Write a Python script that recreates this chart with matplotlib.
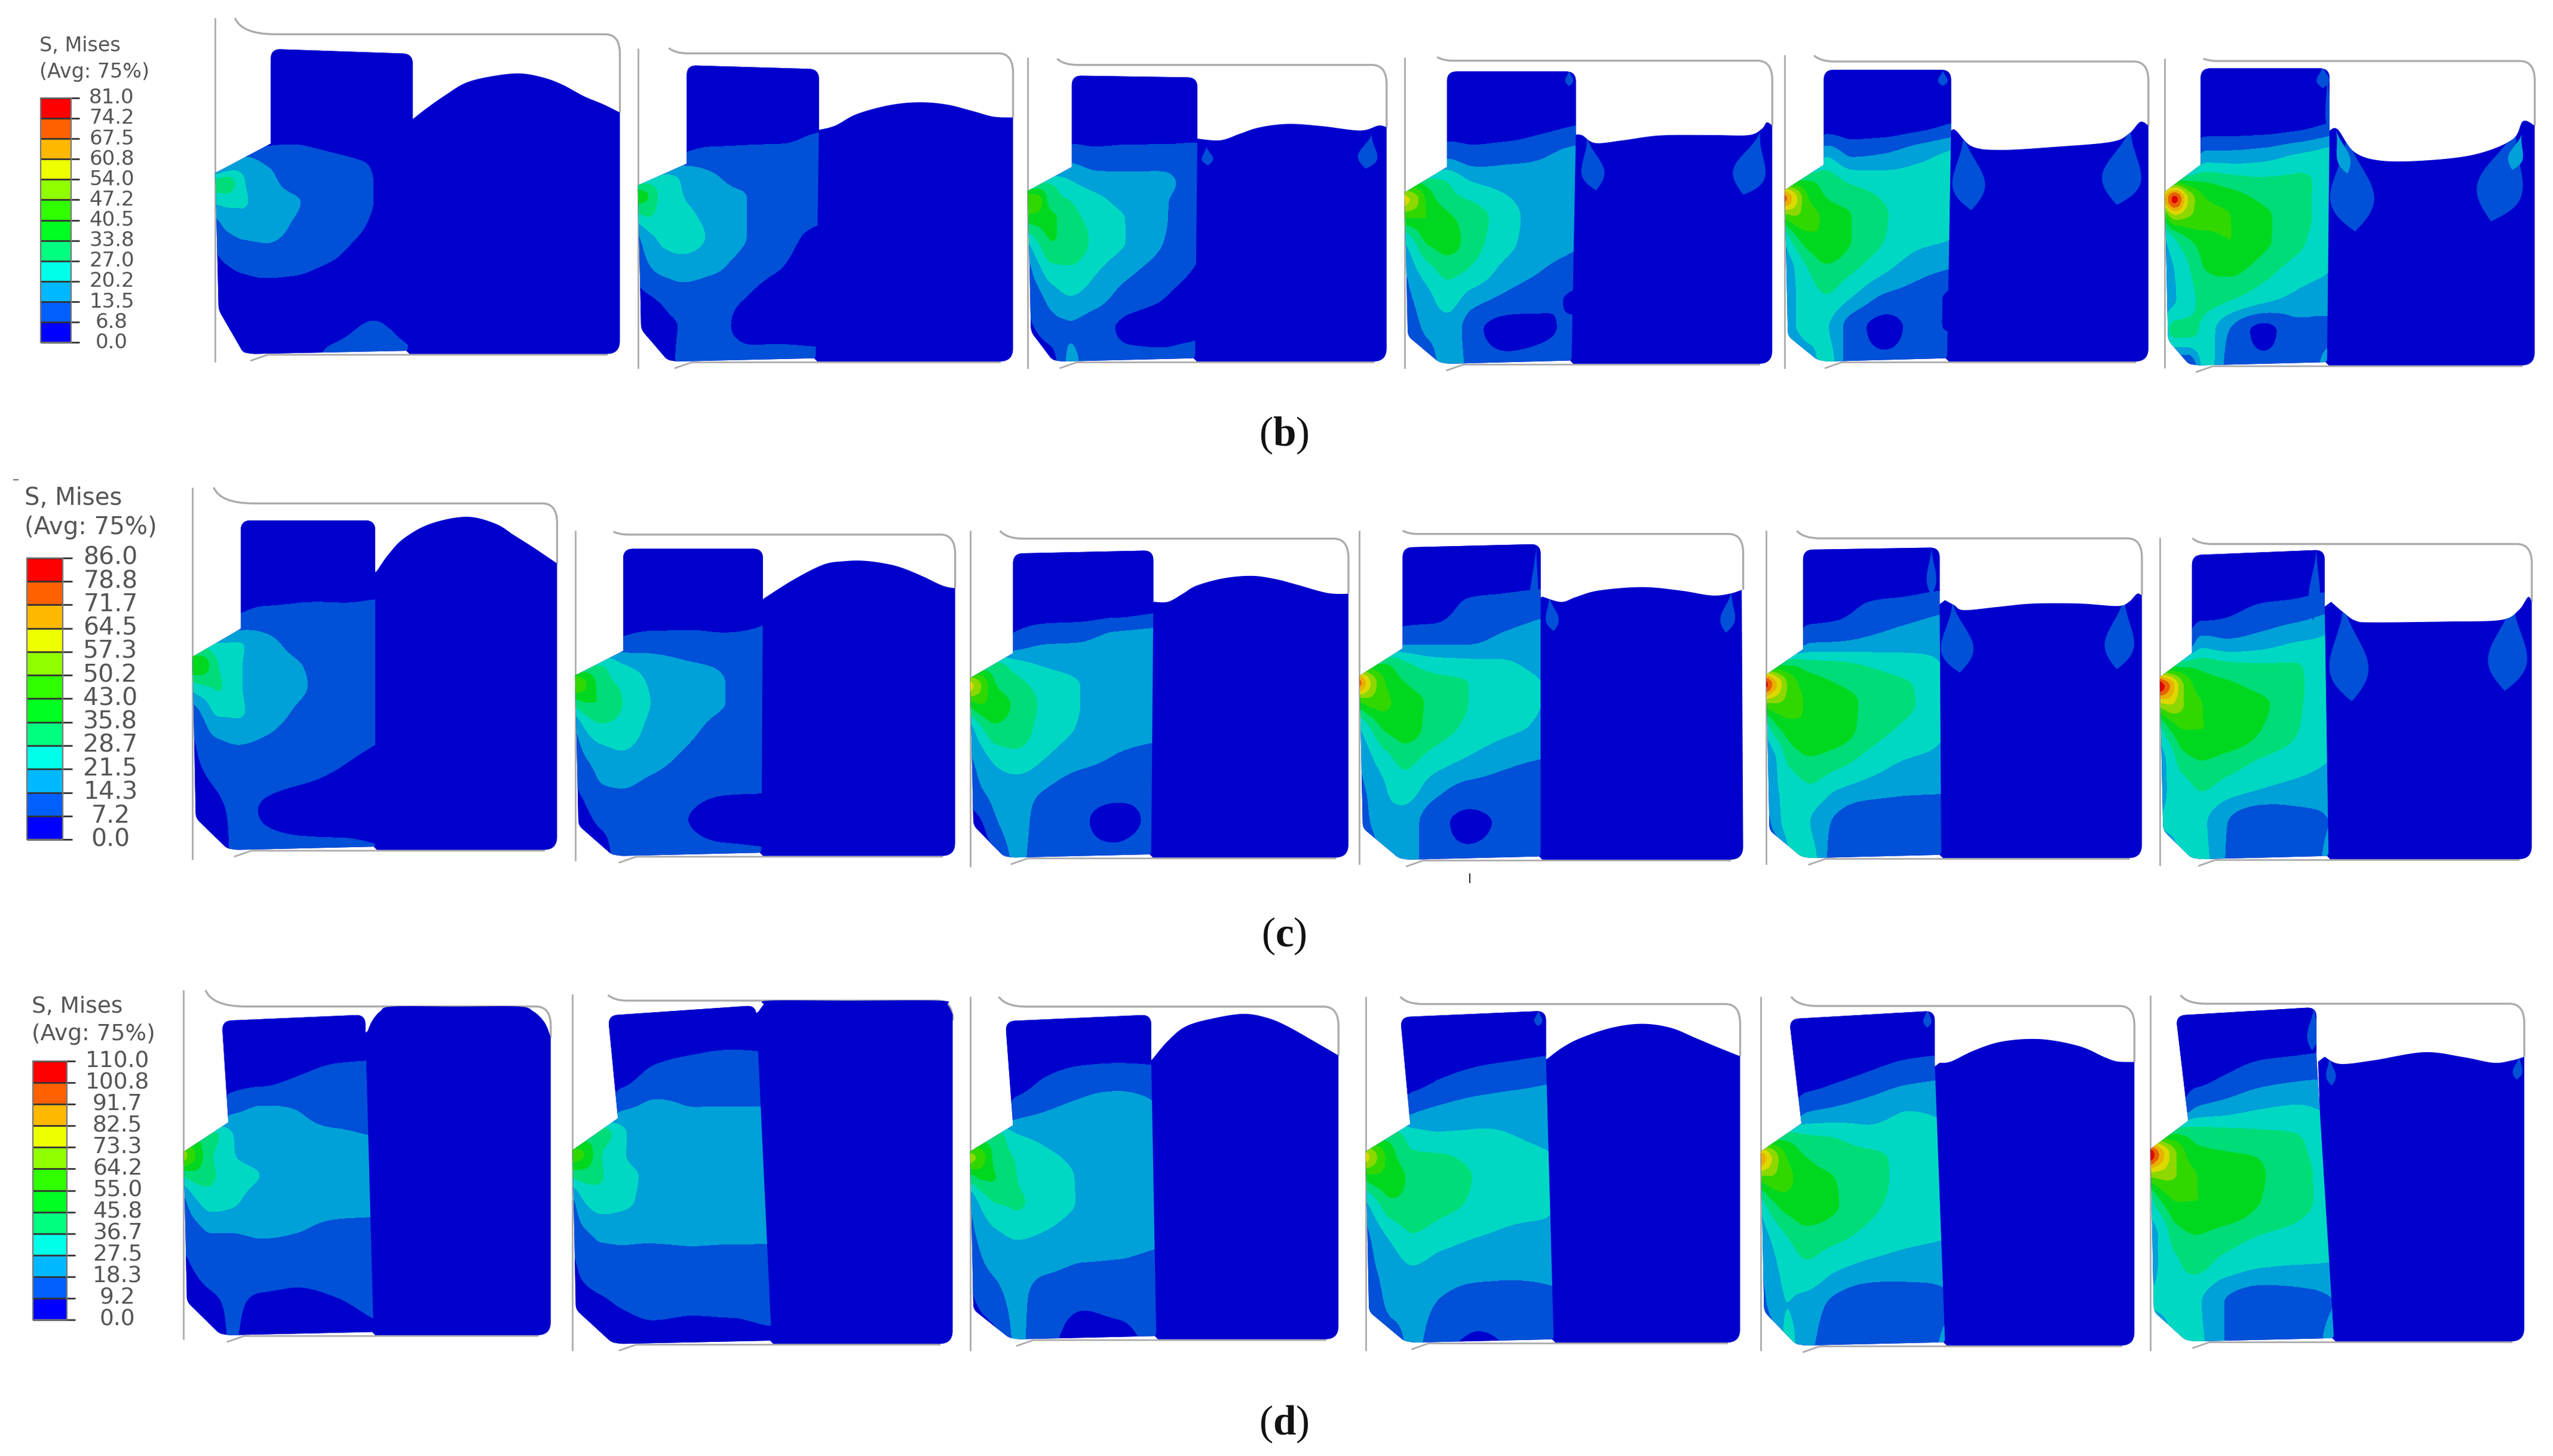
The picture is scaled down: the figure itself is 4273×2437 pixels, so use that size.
import numpy as np
import matplotlib
matplotlib.use("Agg")
import matplotlib.pyplot as plt
from matplotlib.path import Path
from matplotlib.patches import PathPatch, Polygon, Rectangle

plt.rcParams['mathtext.fontset'] = 'custom'
plt.rcParams['mathtext.bf'] = 'Liberation Serif:bold'
plt.rcParams['mathtext.rm'] = 'Liberation Serif'

# ---------- legend values ----------
labels_b = ["81.0","74.2","67.5","60.8","54.0","47.2","40.5","33.8","27.0","20.2","13.5","6.8","0.0"]
labels_c = ["86.0","78.8","71.7","64.5","57.3","50.2","43.0","35.8","28.7","21.5","14.3","7.2","0.0"]
labels_d = ["110.0","100.8","91.7","82.5","73.3","64.2","55.0","45.8","36.7","27.5","18.3","9.2","0.0"]
captions = ["b", "c", "d"]

# ---------- stress fields in contour-band units (one row per depth, one column per width station) ----------
field_b1 = [[.5]*8,[.5]*8,
 [.5,.5,.6,.8,.9,.7,.5,.5],[1,2,2.6,2,1.6,1.3,.95,.5],[4.5,4.6,3.1,2.4,1.7,1.5,1,.5],
 [3.2,3.3,3.1,2.6,2.1,1.5,1,.5],[1.5,2.2,2.4,2.4,1.9,1.4,.9,.4],[.9,1.2,1.5,1.6,1.4,1.05,.6,.4],
 [.5,.6,.7,.8,.8,.6,.5,.4],[.4,.4,.4,.4,.5,.6,.95,.5],[.4,.4,.4,.4,.5,1.2,1.5,1.1]]
field_b2 = [[.5]*8,[.5,.5,.5,.5,.5,.5,.5,.7],
 [.5,.5,.6,1,1.2,1.2,1.2,1.4],[3,3.2,3.2,2.9,2.2,1.6,1.4,1.3],[5.5,5,3.5,3,2.4,2,1.4,1.2],
 [4,4.2,3.4,3.2,2.7,2,1.4,1.2],[1.8,2.7,3.2,3.3,2.9,2,1.3,.7],[1.3,1.9,2.4,2.6,2.3,1.5,1,.5],
 [.8,.95,1.15,1.5,1.3,1,.6,.5],[.5,.6,.8,1.05,1.2,.8,.6,.5],[.5,.5,.6,1.2,1.3,1.3,1.6,1.5]]
field_b3 = [[.5]*8,[.5]*8,
 [.5,.5,.8,1.9,1.6,1.7,1.7,1.6],[4,4.2,4,3.2,2.6,2.3,2.2,1.4],[7,6.5,4.5,4,3.3,2.6,2.1,1.3],
 [5.5,5.5,5.2,4.4,3.6,2.9,2.1,1.3],[3,4,5,4.8,3.7,2.9,2,1.2],[1.5,2.6,3.6,3.8,3.1,2.2,1.5,.9],
 [1.2,1.6,2.4,2.9,2.4,1.4,1,.6],[.8,1.1,1.5,1.9,1.4,.8,.7,.7],[.5,.5,.6,2.2,1.4,1.3,1.3,1.8]]
field_b4 = [[.5]*8,[.5,.5,.5,.5,.5,.5,.7,.95],
 [.5,.5,1,2,1.6,1.8,2,2.4],[5,5,4.5,4,3,2.6,2.3,2.2],[8.5,7.5,5.6,4.4,3.9,3.1,2.5,2.2],
 [6,6,6,5.2,4.5,3.4,2.5,2.2],[3,4,5.2,5.4,4.4,3.3,2.4,2.1],[1.9,2.8,3.6,4.3,3.8,2.6,2,1.6],
 [1.4,2.1,2.7,3.4,2.4,1.7,1.3,.8],[1,1.6,2.3,2.7,1.3,.6,.8,1.3],[.5,.5,1,3,1.5,1.3,1.5,2.2]]
field_b5 = [[.5]*8,[.5,.5,.5,.5,.5,.5,.6,.95],
 [.5,.5,1,3,2,2.2,2.8,3.2],[5,5,5,4.6,3.8,3.5,3.3,3.2],[10.5,8.5,6,5,4.5,3.9,3.3,3.1],
 [6.5,7,6.5,5.7,5,4.1,3.3,3.1],[3,4.5,5.6,6,5,4,3.2,3],[2.3,3,4,4.8,4.2,3.2,2.4,2],
 [2,2.9,3.5,3.9,3,1.8,1.5,.8],[2.3,2.9,3.5,3.1,1.5,.7,1.2,.9],[.5,.5,2,3.5,1.4,1.2,1.3,2.2]]
field_b6 = [[.5]*8,[.5,.5,.5,.5,.5,.5,.6,.95],
 [.5,.5,1,2.5,2.5,2.7,3.2,3.5],[5.5,5.5,5,4.9,4.5,4.2,4.2,3.6],[9,11.5,8,6,5.5,4.8,4.3,3.6],
 [5.5,7.5,7,6.5,6,5.2,4.4,3.5],[2.8,3.8,4.8,5.5,6,5.2,4.3,3.2],[2.5,3,3.8,5,5.2,4.4,3.5,3],
 [2.3,2.9,3.5,4.4,4,3.2,2.7,2.4],[3.5,4.3,4.3,3.6,1.9,.7,1.6,1.8],[1.5,.7,.6,3.5,1.5,1.3,1.3,2.4]]
field_c1 = [[.5]*8,[.5,.5,.5,.5,.5,.5,.5,.7],
 [.5,.5,.5,1.1,1.4,1.4,1.3,1.2],[3.8,3.8,3.2,3.1,2.4,1.6,1.3,1.2],[5.8,5.5,4,3.1,2.6,2,1.4,1.2],
 [3.6,4,4.1,3.1,2.6,2.1,1.4,1.2],[1.5,2.2,3.2,3.1,2.5,1.8,1.3,1.2],[.8,1.4,1.8,2,1.8,1.4,1.2,1],
 [.6,.9,1.2,1.4,1.3,1.1,.9,.6],[.4,.5,.8,1.2,.9,.6,.5,.5],[.4,.4,.5,1.3,1.3,1.3,1.3,1.1]]
field_c2 = [[.5]*8,[.5,.5,.5,.5,.5,.5,.5,.6],
 [.5,.5,.5,1.1,1.3,1.3,1.2,1.2],[3.6,4,4,3.1,2.6,2.1,1.9,1.2],[7,6,4.5,3.8,2.9,2.3,2,1.2],
 [4.5,5,5,4,3,2.3,2,1.2],[2,3.2,3.8,3.6,2.8,2.2,1.7,1.2],[1.3,2,2.5,2.8,2.4,1.8,1.3,1.1],
 [.9,1.3,1.9,2,1.7,1.3,1.1,1.05],[.5,.8,1.2,1.4,1.3,1,.6,.5],[.4,.4,.5,1.5,1.3,1.3,1.3,1.2]]
field_c3 = [[.5]*8,[.5,.5,.5,.5,.5,.5,.5,.7],
 [.5,.5,.6,1.4,1.9,2,2.4,2.6],[4,4.5,4.5,3.6,3,2.7,2.3,2.3],[8.5,7,5,4.4,3.6,3,2.3,2.2],
 [5.5,6,5.5,4.8,3.8,3,2.3,2.2],[2.5,3.8,4.8,4.6,3.6,2.9,2.3,2.2],[1.8,2.5,3.2,3.6,3,2.3,1.9,1.6],
 [1.3,1.9,2.4,2.6,2,1.4,1.3,1.2],[.7,.95,1.9,2.6,1.3,1.1,.7,1.2],[.5,.5,.7,2.3,1.3,1.2,1.3,1.7]]
field_c4 = [[.5]*8,[.5,.5,.5,.5,.5,1.05,1.2,1.4],
 [.5,.5,.7,1.5,1.6,1.7,2.2,2.5],[5,5,5,4.2,3.5,3.3,3.1,2.8],[10.5,8,6,5,4.4,4,3.3,3],
 [6,6.5,6.2,5.5,4.8,4,3.3,3],[3,4,5.2,5.5,4.6,3.8,3.2,2.9],[2,2.8,3.6,4.3,3.6,2.9,2.3,2],
 [1.7,2.2,2.9,3.5,2.4,1.6,1.5,1.1],[1.3,2,2.8,2.6,1.4,.8,1.1,1.2],[.5,.5,3,2.8,1.3,1.2,1.3,2]]
field_c5 = [[.5]*8,[.5,.5,.5,.5,.6,1.05,1.2,1.5],
 [.5,.5,.7,1.8,1.9,2.2,2.6,2.9],[5,5,5,4.5,4.3,3.9,3.4,3],[11.5,9,6.5,5.5,5,4.5,4.1,3.3],
 [7,7,6.5,5.8,5.5,4.7,4.2,3.3],[3.3,4.8,5.6,5.9,5.6,4.5,3.8,3.1],[2.3,3,4.4,4.9,4.5,3.6,3,2.8],
 [2.1,2.9,3.4,3.8,3,2.5,2.2,2.1],[1.5,2.6,3.5,3,1.8,1.1,1.2,1.4],[.5,.5,3,3.3,1.4,1.3,1.3,1.9]]
field_c6 = [[.5]*8,[.5,.5,.5,.5,.7,1.05,1.2,1.6],
 [.5,.5,.7,2.5,2.2,2.5,3,3.2],[5,5,5,4.8,4.4,4.2,4.1,3.3],[11.9,10,7,5.5,5.2,4.7,4.2,3.4],
 [7.5,8,7,6,5.6,5.2,4.2,3.4],[3.5,5,6,6,5.9,5,4.1,3.3],[2.5,3.3,4.6,5,4.6,3.9,3.5,3],
 [2.3,3.2,3.6,4,3.4,2.9,2.6,2.4],[3,3.4,3.7,3.2,2,1.1,1.5,2],[.5,1,3.5,3.3,1.9,1.3,1.3,2.2]]
field_d1 = [[.5]*8,[.5,.5,.5,.5,.5,.9,1.2,1.3],
 [.5,.5,.5,1.8,2.1,2,1.7,1.5],[4.5,4.7,4.5,3.1,2.2,2.1,2.1,2],[7.5,6,4.2,3.1,2.6,2.2,2.2,2.2],
 [4.2,4.6,4.2,3.4,3,2.4,2.3,2.3],[1.7,2.8,3.5,3.2,2.6,2.3,2.3,2.3],[1.3,1.6,2,2,2.1,2,1.7,1.6],
 [.8,1.1,1.4,1.5,1.5,1.3,1.3,1.3],[.5,.7,.9,1.1,.95,.9,1,1.2],[.4,.4,.5,1.05,.7,.6,.6,.8]]
field_d2 = [[.5]*8,[.5,.5,.5,.5,1,1.3,1.6,1.4],
 [.5,.5,.5,1.8,2.1,2,2,2],[3,4,4.6,3.2,2.2,2.1,2.1,2.1],[6.6,6,4.1,3.1,2.4,2.2,2.2,2.2],
 [4.4,4.5,4.1,3.3,2.8,2.3,2.3,2.3],[1.7,3,3.5,3.2,2.7,2.3,2.3,2.3],[1.3,1.8,2.1,2.1,2.1,2.1,2.1,2.1],
 [.7,1.3,1.7,1.8,1.7,1.7,1.6,1.6],[.5,.6,.8,1.1,1.3,1.2,1.2,1.4],[.4,.4,.4,.4,.5,.5,.6,.6]]
field_d3 = [[.5]*8,[.5,.5,.5,.5,.9,1.2,1.3,1.2],
 [.5,.5,.5,1.6,2,2.3,2.5,2.1],[3.5,4.5,4.5,3.2,2.8,2.5,2.3,2.2],[7.5,6.5,4.6,3.9,3.2,2.8,2.4,2.2],
 [4.5,5.2,5,4,3.4,2.9,2.4,2.2],[2,3.2,4,4.1,3.5,2.9,2.4,2.2],[1.6,2.3,2.8,3.1,2.9,2.4,2.2,2.1],
 [1.2,1.8,2.2,2.5,2.2,1.9,1.9,1.8],[.8,1.2,1.6,2.3,1.3,1.1,1.3,1.5],[.5,.5,.7,2.2,1.2,.8,.7,1.4]]
field_d4 = [[.5]*8,[.5,.5,.5,.5,.8,1.1,1.3,1.6],
 [.5,.5,.7,1.8,2.2,2.5,2.6,2.6],[4.5,4.6,4.6,3.5,3.2,3.2,3,2.8],[8.5,7,5.3,4.2,4.1,3.7,3.2,3],
 [5.5,5.8,5.6,4.7,4.4,3.9,3.2,3],[2.8,3.8,4.8,4.7,4.3,3.8,3.2,3],[1.6,2.5,3.2,3.9,3.4,3,2.8,2.9],
 [1.3,2,2.5,2.9,2.5,2.3,2.2,2.2],[1.1,1.6,2.3,2.4,1.9,1.5,1.6,1.9],[.5,.5,1.3,2.2,1.3,.8,1.2,1.9]]
field_d5 = [[.5]*8,[.5,.5,.5,.5,.7,1,1.4,1.7],
 [.5,.5,.7,1.9,2.2,2.6,3,2.9],[4.5,4.7,4.7,4.2,4,3.4,3.3,3.1],[10,8,6,5,4.6,4.3,3.6,3.2],
 [6.5,6.8,6.3,5.4,5,4.4,3.6,3.2],[3.3,4.6,5.4,5.6,5.1,4.2,3.6,3.2],[2.3,3.1,3.9,4.5,4.2,3.6,3.2,3],
 [1.9,2.6,3.3,3.7,3,2.5,2.3,2.2],[1.5,2.3,3,2.6,1.7,1.1,1.4,1.9],[.5,1,3.3,2.3,1.4,1.2,1.2,2.2]]
field_d6 = [[.5]*8,[.5,.5,.5,.5,.8,1.2,1.4,1.7],
 [.5,.5,.7,2,2.4,2.9,3.1,2.7],[5,5,5,4.6,4.4,4.2,4,3.4],[11.9,9.5,7,5.3,5.1,4.9,4.2,3.5],
 [7.5,7.5,7,6,5.8,5.1,4.3,3.6],[3.5,5,6,6,5.9,5,4.3,3.6],[2.6,3.2,4.6,5,4.6,4,3.7,3.3],
 [2.5,3.2,3.8,4.2,3.5,3,2.9,2.9],[3.1,3.4,3.8,3.2,2,1.3,1.5,2],[.5,1,3.6,3.3,2,1.2,1.3,2.4]]

fields = [field_b1, field_b2, field_b3, field_b4, field_b5, field_b6,
          field_c1, field_c2, field_c3, field_c4, field_c5, field_c6,
          field_d1, field_d2, field_d3, field_d4, field_d5, field_d6]
stations_u = [0, .06, .14, .25, .4, .6, .8, 1]
stations_v = [.10, .18, .30, .38, .44, .50, .58, .68, .78, .88, 1]

# ---------- shape of each panel ----------
# wall, punch-left top, neck x, punch right, top y left, top y right, neck y, chamfer y, wall-end y,
# bottom chamfer x, bottom y, divider x at bottom, right x, die top y, hook x, hook y, wall top y, wall bottom y
geom = [
 (132,166,166,253,30,33,88,106,190,150,217,250,380,21,144,11,11,222),
 (391,421,421,502,40,42.4,100.3,113.6,202,410,221.6,500,621,32.7,410,29.5,29.5,225.8),
 (630,657,657,734,46.3,47.5,102.4,117,203.4,646,221.6,732.6,850,39.8,648,36,35,225.8),
 (861,887,887,966,43.8,43.8,102.4,118,206,883,223,963.4,1086.4,37.2,881,35,35,225.8),
 (1094,1118,1118,1196,42.8,42.8,101,116.5,206,1115,221.6,1193.6,1317,37.7,1112,34,33.7,225.8),
 (1327,1349,1349,1428,41.9,41.9,101,117.5,208.6,1342.5,224,1426.5,1553.8,37.4,1350.6,36,36,225.6),
 (118,147.6,147.6,230,319,319,385.4,402.6,501.5,140,521,230,341.5,308.6,131,298.8,298.8,527),
 (352.6,382,382,467.7,336.4,336.4,399,414,506,375.8,524.7,466.7,585.5,327.7,376,325.9,325.4,527.9),
 (594.7,621,621,707,339.3,337.4,400.4,415.6,506,616,525.7,705.7,826.6,330.2,613,325.4,325.4,531.5),
 (833.4,859.8,859.8,944.4,335.6,333.5,397.5,414.2,507.6,858.4,527,944.4,1068.6,327.3,859.8,325.4,325.4,530),
 (1082.7,1105.3,1105.3,1189,337,335.6,398,413.5,509,1105,526,1190,1313,330,1101.5,325.4,325.4,530),
 (1324,1343.7,1343.7,1425,340.3,337,400.4,415,509,1344,526.7,1427.4,1552,333.5,1344,330,329.5,530.8),
 (112.6,136,140,224,625.8,622,688,706,798,135.5,818.5,229,337.6,617,126,607,607,821),
 (351,372.7,378.8,463.6,622.5,616.3,685.5,705,802.8,375.8,823.8,473,584,613.4,372.7,610,609.5,828),
 (594.7,616.3,621,705.7,626,622,689.8,705.8,802.8,619.4,821,708.8,820.5,617.1,612.3,611,611,828),
 (837.2,858.4,864.5,947.7,623.5,619.6,689,705.8,804,861.7,823,952.4,1066.7,615.5,858.4,611,611,828),
 (1079.4,1096.8,1104.3,1186,624.7,619.6,688.7,705.8,804,1101.5,824.8,1192.3,1308.4,616.7,1098,611,611,828),
 (1318.3,1333.8,1341.4,1420,622.5,617.4,687,704.3,804,1340.4,822.3,1430.7,1547.4,615.3,1336.7,610,610,828),
]
surfaces = [
 [(253,73),(262,66),(272,59),(285,51),(300,47),(318,45),(333,47.5),(345,52),(358,59),(370,64),(380,69)],
 [(502,79.6),(512,77),(525,70),(545,64.5),(563,62.7),(580,64),(596,68),(609,71.5),(621,72)],
 [(734,85),(748,86),(760,82),(770,78.6),(782,76.5),(794,76),(812,77.5),(834,80),(845,77),(850,78)],
 [(966,82.5),(970,83),(978,87.7),(995,86),(1018,83),(1050,82.8),(1072,82.8),(1080,79),(1083,75),(1086.4,77)],
 [(1196,80),(1199,80),(1209,89.8),(1227,91.9),(1260,90),(1294,87),(1305,82),(1312,74.7),(1317,77)],
 [(1428,80),(1433,79.3),(1443,93),(1459,98.4),(1486,98.4),(1517,94.7),(1540,85.6),(1546.6,74.3),(1553.8,77)],
 [(231,350),(238,340),(247.6,330),(264,321),(286,316.8),(303.7,321),(315,328),(327,335.6),(341.5,345.4)],
 [(468.9,366.4),(487,355),(505,346),(518,344),(528.4,343.7),(540,345),(551.5,347.6),(565,353),(577.8,359),(585.5,360.6)],
 [(707,368.9),(716,368.9),(725,364),(733.5,359),(750,354.5),(767.4,353),(782,355),(795,358.4),(813.7,363.5),(826.6,364)],
 [(945.4,365.7),(957,369),(966,366),(980,362),(1006.5,359.9),(1030,362),(1049,365),(1060,364),(1067.7,361.6)],
 [(1192.3,367.9),(1198,371),(1204,374),(1225,372),(1246.4,370),(1275,370),(1298,371.5),(1305,369),(1310,364),(1313,365)],
 [(1429,368.9),(1436,375),(1444,380.5),(1455,381.5),(1500,381),(1533.3,380),(1544,374),(1549.7,366),(1552,369)],
 [(225.4,632),(228,626),(233,620),(240.6,617),(280,617),(317.7,617),(327,620),(334,627),(337.6,636)],
 [(465,620),(468,616),(471.4,613.4),(520,613.4),(576,613.4),(581,616),(584,621.8)],
 [(706.4,649.3),(716,638),(727.3,629),(745,624),(762.8,621.5),(777,624),(789,629),(805,638),(820.5,647)],
 [(949,648.6),(958,642),(969,636.3),(988,630),(1006.5,627.6),(1024,630),(1039.4,636.3),(1053,642),(1066.7,647.5)],
 [(1189,651.5),(1196,650.7),(1210,644),(1227.6,638.4),(1251,637),(1274.6,641.3),(1290,648),(1298,650.7),(1308.4,651)],
 [(1425,647.8),(1434.5,652.2),(1455,650),(1486,645),(1510,648),(1528.6,651.5),(1540,650),(1547.4,647.8)],
]
# (panel index, x, y, width, height, tilt, band)
tears = [
 (2,740,95.4,7,12,-5,1),(2,839,92.6,12,22,10,1),
 (3,975.5,100,14,34,-10,1),(3,1074,99.6,20,41,15,1),
 (4,1206,105,20,48,-6,1),(4,1302,101,24,50,10,1),
 (5,1441,111,27,62,-5,1),(5,1435.5,93,8,28,-15,2),(5,1535,105.7,28,62,15,1),(5,1543,93,9,23,15,2),
 (9,951,376,8,22,-8,1),(9,1059.7,375,9,26,8,1),
 (10,1199,390,20,45,-6,1),(10,1300,387.4,18,46,6,1),
 (11,1439,399,24,62,-5,1),(11,1538,394.6,24,58,5,1),
 (17,1428.6,656.5,6,18,-5,1),(17,1543.6,654.4,6,15,8,1),
]
# thin strips on the punch's upper right side
strips = [
 (3,961.9,47.7,5,10,0,1),(4,1191,47.7,6,10,0,1),(5,1424,47,8,14,0,1),(5,1427,62,3,40,0,1),
 (9,940.7,357,5,48,3,1),(10,1184,350,6,30,0,1),(11,1419,358,7,45,3,1),
 (15,943,624,5,10,0,1),(16,1181.5,624,5,12,0,1),(17,1418,630,7,28,3,1),
]

FIELD_COL = ["#0000CD","#0050D8","#00A0D8","#00D8C4","#00DC78","#00D820",
             "#30D800","#8CD800","#DCD800","#E8B000","#E86000","#E00000"]
LEG_COL = ["#0000FF","#0060FF","#00B8FF","#00FFE8","#00FF80","#00FF20",
           "#30FF00","#90FF00","#EEFF00","#FFB800","#FF6000","#FF0000"]
GRAY = "#ABABAB"
TXT = "#555555"

W, H = 4273, 2437
fig = plt.figure(figsize=(W/100, H/100), dpi=100)
ax = fig.add_axes([0, 0, 1, 1])
ax.set_xlim(0, 1565)
ax.set_ylim(H/2.7304, 0)
ax.axis("off")


def rounded(pts, radii):
    pts = np.asarray(pts, float)
    n = len(pts)
    v, c = [], []
    for i in range(n):
        p, a, b, r = pts[i], pts[i-1], pts[(i+1) % n], radii[i]
        if r <= 0:
            v.append(p); c.append(Path.LINETO)
        else:
            d1 = (a-p)/np.linalg.norm(a-p)
            d2 = (b-p)/np.linalg.norm(b-p)
            v += [p+d1*r, p, p+d2*r]
            c += [Path.LINETO, Path.CURVE3, Path.CURVE3]
    c[0] = Path.MOVETO
    v.append(v[0]); c.append(Path.CLOSEPOLY)
    return Path(v, c)


def smooth_curve(pts, n=12):
    P = np.asarray(pts, float)
    Q = np.vstack([P[0], P, P[-1]])
    out = []
    for i in range(1, len(Q)-2):
        for t in np.linspace(0, 1, n, endpoint=False):
            out.append(0.5*((2*Q[i]) + (Q[i+1]-Q[i-1])*t +
                            (2*Q[i-1]-5*Q[i]+4*Q[i+1]-Q[i+2])*t**2 +
                            (3*Q[i]-Q[i-1]-3*Q[i+1]+Q[i+2])*t**3))
    out.append(P[-1])
    return np.array(out)


def pchip(x, y, xn):
    x, y = np.asarray(x, float), np.asarray(y, float)
    h = np.diff(x); d = np.diff(y)/h
    m = np.zeros_like(y)
    for i in range(1, len(y)-1):
        if d[i-1]*d[i] > 0:
            w1, w2 = 2*h[i]+h[i-1], h[i]+2*h[i-1]
            m[i] = (w1+w2)/(w1/d[i-1]+w2/d[i])
    m[0], m[-1] = d[0], d[-1]
    xc = np.clip(xn, x[0], x[-1])
    k = np.clip(np.searchsorted(x, xc, side="right")-1, 0, len(h)-1)
    t = (xc-x[k])/h[k]
    return ((2*t**3-3*t**2+1)*y[k] + (t**3-2*t**2+t)*h[k]*m[k] +
            (-2*t**3+3*t**2)*y[k+1] + (t**3-t**2)*h[k]*m[k+1])


def soften(Z, s=2.2):
    k = np.exp(-0.5*(np.arange(-7, 8)/s)**2); k /= k.sum()
    pad = 7
    Zp = np.pad(Z, pad, mode="edge")
    Zp = np.apply_along_axis(lambda m: np.convolve(m, k, mode="same"), 0, Zp)
    Zp = np.apply_along_axis(lambda m: np.convolve(m, k, mode="same"), 1, Zp)
    return Zp[pad:-pad, pad:-pad]


def teardrop(cx, cy, w, h, tilt):
    s = np.linspace(0, 1, 60)
    half = 0.5*w*np.sin(np.pi*s**1.7)
    along = (s-0.5)*h
    a = np.radians(tilt)
    ax_d = np.array([-np.sin(a), np.cos(a)])
    ax_n = np.array([np.cos(a), np.sin(a)])
    c = np.array([cx, cy])
    right_side = c + np.outer(along, ax_d) + np.outer(half, ax_n)
    left_side = c + np.outer(along, ax_d) - np.outer(half, ax_n)
    return np.vstack([right_side, left_side[::-1]])


fu = np.linspace(0, 1, 260)
fv = np.linspace(0, 1, 360)

for idx, (g, surf, fld) in enumerate(zip(geom, surfaces, fields)):
    wall, pl, nx, pr, tl, tr, neck, chb, wb, bx, bot, div, right, dty, hx, hy, wt, wbot = g
    ax.plot([wall, wall], [wt, wbot], color=GRAY, lw=2.0, solid_capstyle="butt", zorder=1)
    sy = surf[-1][1]
    end = hx + 2*(dty-hy) + 5
    ax.add_patch(PathPatch(Path([(hx, hy), (hx+4, dty), (end, dty), (right-9, dty), (right, dty), (right, dty+12), (right, sy)],
                                [Path.MOVETO, Path.CURVE3, Path.CURVE3, Path.LINETO, Path.CURVE3, Path.CURVE3, Path.LINETO]),
                           fc="none", ec=GRAY, lw=2.4, zorder=1))
    ax.plot([bx+4, bx+14, right-8], [bot+4, bot+.5, bot+.5], color=GRAY, lw=2.0, zorder=1)

    # right-hand block
    curve = smooth_curve(surf)
    rpts = [tuple(q) for q in curve] + [(right, bot), (div+1, bot), (div-4, bot-5), (surf[0][0]-4, surf[0][1]+3)]
    rrad = [0]*len(curve) + [8, 0, 0, 0]
    rp = PathPatch(rounded(rpts, rrad), fc=FIELD_COL[0], ec="none", zorder=2)
    ax.add_patch(rp)
    for t in tears:
        if t[0] == idx:
            e = Polygon(teardrop(*t[1:6]), fc=FIELD_COL[t[6]], ec="none", zorder=3)
            ax.add_patch(e)
            e.set_clip_path(rp)

    # left-hand block with stress contours
    lpts = [(pl, tl), (pr, tr), (pr, surf[0][1]), (div, bot-2), (bx+5, bot), (bx-1, bot-1), (wall+2, wb), (wall, chb), (nx, neck)]
    lp = PathPatch(rounded(lpts, [6, 6, 0, 2, 2, 2, 3, 0, 0]), fc=FIELD_COL[0], ec="none", zorder=4)
    ax.add_patch(lp)
    arr = np.array(fld, float)
    Zu = np.array([pchip(stations_u, row, fu) for row in arr])
    Z = np.array([pchip(stations_v, Zu[:, j], fv) for j in range(Zu.shape[1])]).T
    Z = soften(Z)
    X = wall + fu*(max(div, pr)-wall)
    Y = min(tl, tr) + fv*(bot-min(tl, tr))
    cs = ax.contourf(X, Y, Z, levels=np.arange(0, 13), colors=FIELD_COL, extend="both",
                     antialiased=False, zorder=5)
    cs.set_clip_path(lp)
    for t in strips:
        if t[0] == idx:
            e = Polygon(teardrop(*t[1:6]), fc=FIELD_COL[t[6]], ec="none", zorder=6)
            ax.add_patch(e)
            e.set_clip_path(lp)


def legend(labels, x0, x1, xt, ytop, ybot, xl, fs, tx, ty, tfs):
    ax.text(tx, ty[0], "S, Mises", fontsize=tfs, color=TXT, va="center", ha="left", family="DejaVu Sans")
    ax.text(tx, ty[1], "(Avg: 75%)", fontsize=tfs, color=TXT, va="center", ha="left", family="DejaVu Sans")
    ys = np.linspace(ytop, ybot, len(labels))
    for i, lab in enumerate(labels):
        if i < len(labels)-1:
            ax.add_patch(Rectangle((x0, ys[i]), x1-x0, ys[i+1]-ys[i], fc=LEG_COL[len(labels)-2-i], ec="none", zorder=2))
        ax.plot([x0, xt], [ys[i], ys[i]], color="#333333", lw=2.0, zorder=3, solid_capstyle="butt")
        ax.text(xl, ys[i], lab, fontsize=fs, color=TXT, va="center", ha="center", family="DejaVu Sans")
    ax.add_patch(Rectangle((x0, ytop), x1-x0, ybot-ytop, fc="none", ec="#777777", lw=1.6, zorder=4))


legend(labels_b, 25, 43.7, 48.8, 60, 210, 68.5, 24.5, 24, (28, 44), 24)
legend(labels_c, 16.4, 38.5, 44.4, 342, 514.6, 67.7, 29.5, 15, (305.5, 323.5), 29)
legend(labels_d, 20, 40.9, 46, 650.6, 808.9, 72, 27, 19.4, (617, 634), 27)

# small stray marks of the source image
ax.plot([8.5, 11], [294, 294], color="#777777", lw=1.6)
ax.plot([901, 901], [536, 541], color="#333333", lw=1.6)

for cap, y in zip(captions, [267, 574, 873]):
    ax.text(787, y, "(" + r"$\mathbf{" + cap + "}$" + ")", fontsize=50, color="#111111",
            ha="center", va="center", family="Liberation Serif")

fig.savefig("out.png", dpi=100)
